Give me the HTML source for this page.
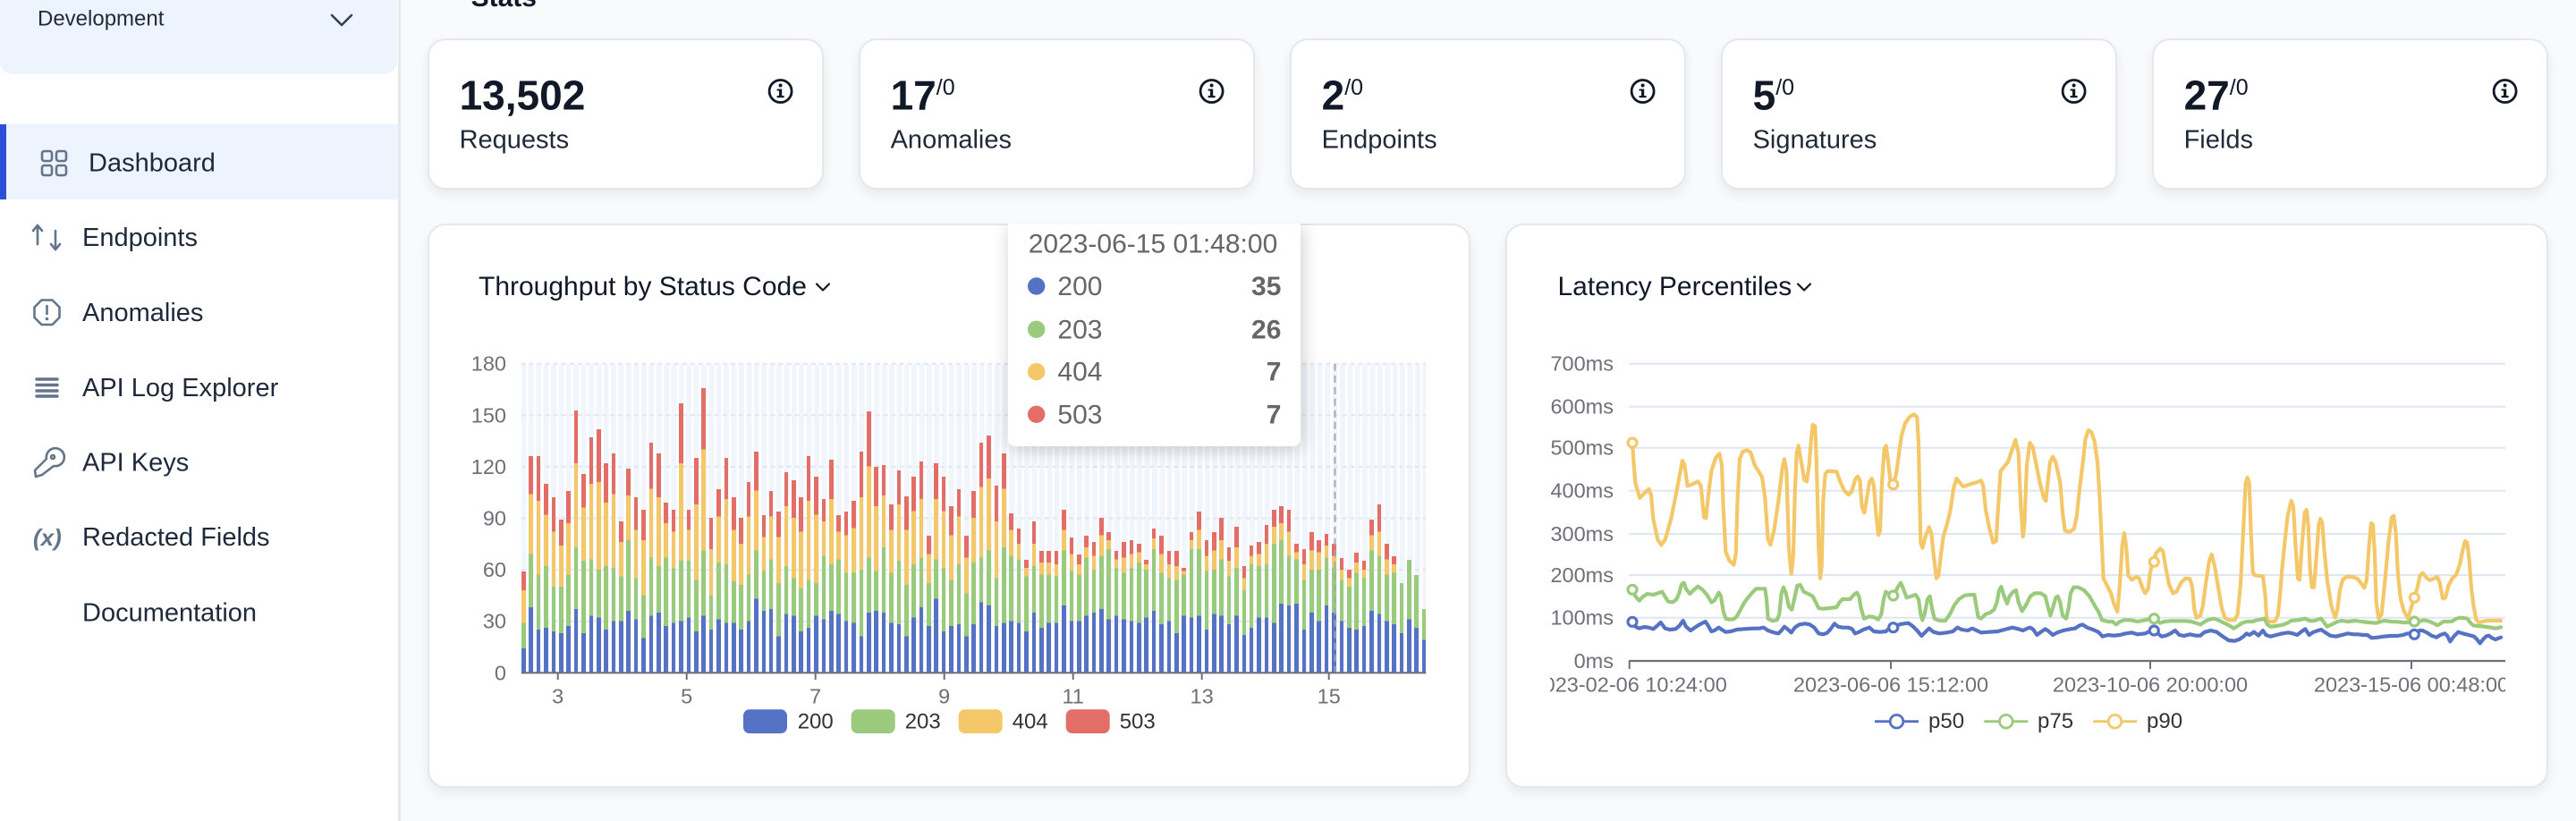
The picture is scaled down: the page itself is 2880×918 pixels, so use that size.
<!DOCTYPE html>
<html><head><meta charset="utf-8">
<style>
*{margin:0;padding:0;box-sizing:border-box}
html,body{width:2880px;height:918px;overflow:hidden;background:#f9fafb;font-family:"Liberation Sans",sans-serif}
.abs{position:absolute}
.side{position:absolute;left:0;top:0;width:448px;height:918px;background:#fff;border-right:3px solid #e6e8ec}
.dev{position:absolute;left:0;top:-30px;width:444px;height:113px;background:#eef4fd;border-radius:14px}
.act{position:absolute;left:0;top:139px;width:445px;height:84px;background:#eef4fd}
.act b{position:absolute;left:0;top:0;width:7px;height:84px;background:#2b4fd6}
.card{position:absolute;background:#fff;border:2px solid #e3e8ef;border-radius:20px;box-shadow:0 6px 12px rgba(15,23,42,0.07)}
.stripes{position:absolute;left:582.7px;top:406.7px;width:1011.6px;height:345.6px;background:repeating-linear-gradient(90deg,#f1f6fd 0 5.3px,#ffffff 5.3px 7.8px,#f1f6fd 7.8px 8.4px)}
.bars{position:absolute;left:583px;top:406.7px;height:345.6px;width:1011.3px;display:flex;align-items:flex-end;overflow:hidden}
.bars i{display:block;flex:none;width:4.6px;margin-right:3.8px;height:calc(var(--r) * 1.92px);background:linear-gradient(to top,#5572c4 calc(var(--b) * 1.92px),#9aca7c calc(var(--b) * 1.92px) calc(var(--g) * 1.92px),#f4c768 calc(var(--g) * 1.92px) calc(var(--y) * 1.92px),#e36d67 calc(var(--y) * 1.92px))}
.ttclip{position:absolute;left:1100px;top:250px;width:400px;height:290px;overflow:hidden}
.tt{position:absolute;left:27.3px;top:0;width:327px;height:249.3px;background:#fff;border-radius:0 0 8px 8px;box-shadow:2px 4px 20px rgba(0,0,0,0.2)}
</style></head>
<body>
<div class="side">
  <div class="dev"></div>
  <div class="act"><b></b></div>
</div>

<div class="card" style="left:477.6px;top:43px;width:443px;height:169px"></div>
<div class="card" style="left:959.6px;top:43px;width:443px;height:169px"></div>
<div class="card" style="left:1441.6px;top:43px;width:443px;height:169px"></div>
<div class="card" style="left:1923.6px;top:43px;width:443px;height:169px"></div>
<div class="card" style="left:2405.6px;top:43px;width:443px;height:169px"></div>

<div class="card" style="left:477.6px;top:250px;width:1166.4px;height:631px"></div>
<div class="card" style="left:1683px;top:250px;width:1166px;height:631px"></div>

<div class="stripes"></div>
<svg class="abs" style="left:0;top:0" width="2880" height="918" viewBox="0 0 2880 918">
 <g stroke="#e1e7f0" stroke-width="2" stroke-dasharray="5 4">
  <line x1="582.7" y1="406.7" x2="1594.3" y2="406.7"/>
  <line x1="582.7" y1="464.3" x2="1594.3" y2="464.3"/>
  <line x1="582.7" y1="521.9" x2="1594.3" y2="521.9"/>
  <line x1="582.7" y1="579.5" x2="1594.3" y2="579.5"/>
  <line x1="582.7" y1="637.1" x2="1594.3" y2="637.1"/>
  <line x1="582.7" y1="694.7" x2="1594.3" y2="694.7"/>
 </g>
</svg>

<div class="bars">
<i style="--b:14;--g:29;--y:48;--r:59"></i><i style="--b:38;--g:69;--y:104;--r:126"></i><i style="--b:25;--g:57;--y:100;--r:126"></i><i style="--b:26;--g:62;--y:92;--r:110"></i><i style="--b:24;--g:50;--y:82;--r:102"></i><i style="--b:23;--g:50;--y:74;--r:89"></i><i style="--b:27;--g:57;--y:87;--r:106"></i><i style="--b:37;--g:73;--y:122;--r:153"></i><i style="--b:23;--g:65;--y:96;--r:116"></i><i style="--b:33;--g:66;--y:110;--r:137"></i>
<i style="--b:32;--g:60;--y:111;--r:142"></i><i style="--b:25;--g:62;--y:99;--r:122"></i><i style="--b:30;--g:61;--y:104;--r:128"></i><i style="--b:30;--g:56;--y:76;--r:88"></i><i style="--b:36;--g:77;--y:103;--r:119"></i><i style="--b:31;--g:55;--y:83;--r:102"></i><i style="--b:20;--g:45;--y:77;--r:95"></i><i style="--b:33;--g:67;--y:107;--r:134"></i><i style="--b:35;--g:62;--y:102;--r:128"></i><i style="--b:27;--g:67;--y:87;--r:99"></i>
<i style="--b:29;--g:61;--y:82;--r:95"></i><i style="--b:30;--g:65;--y:122;--r:157"></i><i style="--b:32;--g:65;--y:83;--r:95"></i><i style="--b:24;--g:54;--y:98;--r:125"></i><i style="--b:33;--g:71;--y:130;--r:166"></i><i style="--b:25;--g:45;--y:72;--r:90"></i><i style="--b:31;--g:64;--y:91;--r:107"></i><i style="--b:29;--g:63;--y:101;--r:125"></i><i style="--b:29;--g:53;--y:83;--r:102"></i><i style="--b:25;--g:51;--y:75;--r:90"></i>
<i style="--b:30;--g:57;--y:91;--r:111"></i><i style="--b:43;--g:71;--y:106;--r:129"></i><i style="--b:36;--g:59;--y:79;--r:92"></i><i style="--b:37;--g:66;--y:91;--r:106"></i><i style="--b:21;--g:52;--y:79;--r:94"></i><i style="--b:34;--g:62;--y:97;--r:117"></i><i style="--b:33;--g:55;--y:90;--r:112"></i><i style="--b:24;--g:49;--y:82;--r:102"></i><i style="--b:26;--g:54;--y:100;--r:126"></i><i style="--b:33;--g:52;--y:92;--r:114"></i>
<i style="--b:31;--g:68;--y:88;--r:101"></i><i style="--b:36;--g:63;--y:101;--r:124"></i><i style="--b:34;--g:66;--y:82;--r:92"></i><i style="--b:30;--g:58;--y:80;--r:94"></i><i style="--b:29;--g:58;--y:84;--r:100"></i><i style="--b:21;--g:60;--y:102;--r:129"></i><i style="--b:35;--g:67;--y:120;--r:152"></i><i style="--b:36;--g:59;--y:97;--r:120"></i><i style="--b:35;--g:73;--y:103;--r:121"></i><i style="--b:29;--g:58;--y:83;--r:98"></i>
<i style="--b:28;--g:65;--y:98;--r:118"></i><i style="--b:21;--g:51;--y:83;--r:103"></i><i style="--b:32;--g:63;--y:94;--r:114"></i><i style="--b:38;--g:67;--y:101;--r:123"></i><i style="--b:27;--g:52;--y:69;--r:80"></i><i style="--b:43;--g:66;--y:101;--r:122"></i><i style="--b:24;--g:61;--y:94;--r:114"></i><i style="--b:27;--g:54;--y:80;--r:97"></i><i style="--b:28;--g:63;--y:91;--r:107"></i><i style="--b:21;--g:46;--y:67;--r:80"></i>
<i style="--b:28;--g:64;--y:90;--r:106"></i><i style="--b:41;--g:67;--y:108;--r:134"></i><i style="--b:39;--g:71;--y:113;--r:138"></i><i style="--b:27;--g:55;--y:88;--r:109"></i><i style="--b:29;--g:73;--y:107;--r:128"></i><i style="--b:30;--g:68;--y:83;--r:93"></i><i style="--b:29;--g:66;--y:75;--r:84"></i><i style="--b:24;--g:56;--y:61;--r:66"></i><i style="--b:35;--g:62;--y:75;--r:88"></i><i style="--b:26;--g:57;--y:64;--r:71"></i>
<i style="--b:29;--g:57;--y:64;--r:71"></i><i style="--b:29;--g:56;--y:63;--r:71"></i><i style="--b:39;--g:71;--y:83;--r:95"></i><i style="--b:30;--g:59;--y:69;--r:79"></i><i style="--b:30;--g:57;--y:63;--r:69"></i><i style="--b:33;--g:67;--y:73;--r:80"></i><i style="--b:35;--g:60;--y:68;--r:76"></i><i style="--b:37;--g:68;--y:80;--r:90"></i><i style="--b:31;--g:72;--y:77;--r:82"></i><i style="--b:33;--g:61;--y:66;--r:71"></i>
<i style="--b:31;--g:58;--y:67;--r:76"></i><i style="--b:30;--g:61;--y:69;--r:77"></i><i style="--b:29;--g:64;--y:70;--r:75"></i><i style="--b:32;--g:60;--y:63;--r:66"></i><i style="--b:36;--g:72;--y:78;--r:84"></i><i style="--b:28;--g:58;--y:69;--r:80"></i><i style="--b:30;--g:55;--y:63;--r:71"></i><i style="--b:23;--g:54;--y:62;--r:71"></i><i style="--b:33;--g:57;--y:59;--r:61"></i><i style="--b:32;--g:72;--y:77;--r:82"></i>
<i style="--b:33;--g:72;--y:83;--r:94"></i><i style="--b:25;--g:59;--y:68;--r:77"></i><i style="--b:34;--g:60;--y:71;--r:82"></i><i style="--b:33;--g:66;--y:77;--r:90"></i><i style="--b:28;--g:56;--y:65;--r:73"></i><i style="--b:33;--g:61;--y:73;--r:85"></i><i style="--b:22;--g:48;--y:55;--r:62"></i><i style="--b:26;--g:63;--y:68;--r:74"></i><i style="--b:32;--g:62;--y:69;--r:76"></i><i style="--b:32;--g:63;--y:75;--r:86"></i>
<i style="--b:29;--g:75;--y:85;--r:95"></i><i style="--b:40;--g:77;--y:87;--r:97"></i><i style="--b:39;--g:68;--y:82;--r:95"></i><i style="--b:40;--g:66;--y:70;--r:75"></i><i style="--b:25;--g:54;--y:63;--r:72"></i><i style="--b:35;--g:60;--y:71;--r:82"></i><i style="--b:30;--g:60;--y:70;--r:77"></i><i style="--b:39;--g:67;--y:74;--r:81"></i><i style="--b:35;--g:61;--y:68;--r:75"></i><i style="--b:30;--g:54;--y:60;--r:67"></i>
<i style="--b:26;--g:50;--y:55;--r:60"></i><i style="--b:25;--g:58;--y:64;--r:70"></i><i style="--b:27;--g:55;--y:60;--r:65"></i><i style="--b:36;--g:71;--y:80;--r:89"></i><i style="--b:34;--g:68;--y:82;--r:98"></i><i style="--b:30;--g:57;--y:66;--r:75"></i><i style="--b:28;--g:58;--y:63;--r:68"></i><i style="--b:23;--g:52;--y:52;--r:52"></i><i style="--b:31;--g:66;--y:66;--r:66"></i><i style="--b:26;--g:57;--y:57;--r:57"></i>
<i style="--b:19;--g:37;--y:37;--r:37"></i>
</div>

<svg class="abs" style="left:0;top:0" width="2880" height="918" viewBox="0 0 2880 918">
 <defs><clipPath id="lc"><rect x="1733" y="740" width="1068" height="60"/></clipPath></defs>

 <!-- Sidebar -->
 <text x="42" y="28.5" font-size="24" fill="#1f2937">Development</text>
 <polyline points="371,17 382,28 393,17" fill="none" stroke="#374151" stroke-width="2.6" stroke-linecap="round" stroke-linejoin="round"/>
 <g fill="none" stroke="#64748b" stroke-width="2.6" stroke-linecap="round" stroke-linejoin="round">
  <rect x="47" y="169" width="11" height="11" rx="2.5"/><rect x="63" y="169" width="11" height="11" rx="2.5"/>
  <rect x="47" y="185" width="11" height="11" rx="2.5"/><rect x="63" y="185" width="11" height="11" rx="2.5"/>
  <line x1="42" y1="252" x2="42" y2="273"/><polyline points="37,258 42,252 47,258"/>
  <line x1="62" y1="258" x2="62" y2="279"/><polyline points="57,273 62,279 67,273"/>
  <polygon points="46.5,335.5 58.5,335.5 66.5,343.5 66.5,355 58.5,363 46.5,363 38.5,355 38.5,343.5"/>
  <line x1="52.5" y1="342" x2="52.5" y2="351"/>
  <path d="M47,531 L40,533 L39,526 L52,513 A10,10 0 1 1 60,521 L47,531" />
  <circle cx="59" cy="511" r="2"/>
 </g>
 <circle cx="52.5" cy="356.5" r="1.8" fill="#64748b"/>
 <g stroke="#64748b" stroke-width="3.4" stroke-linecap="round">
  <line x1="41" y1="424" x2="64" y2="424"/><line x1="41" y1="430.5" x2="64" y2="430.5"/>
  <line x1="41" y1="437" x2="64" y2="437"/><line x1="41" y1="443" x2="64" y2="443"/>
 </g>
 <text x="37" y="610" font-size="26" font-weight="bold" font-style="italic" fill="#64748b">(x)</text>
 <g font-size="29" fill="#1e293b">
  <text x="99" y="191.7">Dashboard</text>
  <text x="92" y="275">Endpoints</text>
  <text x="92" y="359">Anomalies</text>
  <text x="92" y="443">API Log Explorer</text>
  <text x="92" y="526.5">API Keys</text>
  <text x="92" y="610">Redacted Fields</text>
  <text x="92" y="694.5">Documentation</text>
 </g>

 <!-- Stats header -->
 <text x="526.6" y="7" font-size="30" font-weight="bold" fill="#111827">Stats</text>

 <!-- Stat cards -->
 <g fill="#111827">
  <text x="513.6" y="122.7" font-size="46" font-weight="bold">13,502</text>
  <text x="995.6" y="122.7" font-size="46" font-weight="bold">17<tspan font-size="25" font-weight="normal" dy="-16.7">/0</tspan></text>
  <text x="1477.6" y="122.7" font-size="46" font-weight="bold">2<tspan font-size="25" font-weight="normal" dy="-16.7">/0</tspan></text>
  <text x="1959.6" y="122.7" font-size="46" font-weight="bold">5<tspan font-size="25" font-weight="normal" dy="-16.7">/0</tspan></text>
  <text x="2441.6" y="122.7" font-size="46" font-weight="bold">27<tspan font-size="25" font-weight="normal" dy="-16.7">/0</tspan></text>
 </g>
 <g fill="#1f2937" font-size="29">
  <text x="513.6" y="165.7">Requests</text>
  <text x="995.6" y="165.7">Anomalies</text>
  <text x="1477.6" y="165.7">Endpoints</text>
  <text x="1959.6" y="165.7">Signatures</text>
  <text x="2441.6" y="165.7">Fields</text>
 </g>
 <g id="info" transform="translate(872.6,102)">
  <circle r="12.5" fill="none" stroke="#111827" stroke-width="2.8"/>
  <circle cx="0" cy="-6.5" r="2" fill="#111827"/>
  <rect x="-1.6" y="-2.5" width="3.2" height="9" fill="#111827"/>
  <rect x="-4" y="5" width="8" height="2.2" fill="#111827"/>
  <rect x="-4" y="-2.5" width="4" height="2" fill="#111827"/>
 </g>
 <use href="#info" transform="translate(482,0)"/>
 <use href="#info" transform="translate(964,0)"/>
 <use href="#info" transform="translate(1446,0)"/>
 <use href="#info" transform="translate(1928,0)"/>

 <!-- Chart titles -->
 <g font-size="30" fill="#111827">
  <text x="535" y="330">Throughput by Status Code</text>
  <text x="1741.5" y="330">Latency Percentiles</text>
 </g>
 <g fill="none" stroke="#111827" stroke-width="2.2" stroke-linecap="round" stroke-linejoin="round">
  <polyline points="913,317.5 920,324.5 927,317.5"/>
  <polyline points="2010,317.5 2017,324.5 2024,317.5"/>
 </g>

 <!-- Bar chart axes -->
 <g font-size="23.5" fill="#6e7079" text-anchor="end">
  <text x="566" y="414.7">180</text><text x="566" y="472.3">150</text><text x="566" y="529.9">120</text>
  <text x="566" y="587.5">90</text><text x="566" y="645.1">60</text><text x="566" y="702.7">30</text><text x="566" y="760.3">0</text>
 </g>
 <line x1="1492.5" y1="406.7" x2="1492.5" y2="752" stroke="#a3a7b0" stroke-width="2" stroke-dasharray="8 5"/>
 <line x1="582.7" y1="752.3" x2="1594.3" y2="752.3" stroke="#6e7079" stroke-width="2.2"/>
 <g stroke="#6e7079" stroke-width="2">
  <line x1="623.7" y1="752" x2="623.7" y2="760"/><line x1="767.7" y1="752" x2="767.7" y2="760"/>
  <line x1="911.7" y1="752" x2="911.7" y2="760"/><line x1="1055.7" y1="752" x2="1055.7" y2="760"/>
  <line x1="1199.7" y1="752" x2="1199.7" y2="760"/><line x1="1343.7" y1="752" x2="1343.7" y2="760"/>
  <line x1="1485.7" y1="752" x2="1485.7" y2="760"/>
 </g>
 <g font-size="23.5" fill="#6e7079" text-anchor="middle">
  <text x="623.7" y="786.7">3</text><text x="767.7" y="786.7">5</text><text x="911.7" y="786.7">7</text>
  <text x="1055.7" y="786.7">9</text><text x="1199.7" y="786.7">11</text><text x="1343.7" y="786.7">13</text>
  <text x="1485.7" y="786.7">15</text>
 </g>
 <!-- Bar legend -->
 <rect x="831" y="793.3" width="49" height="26.7" rx="7" fill="#5572c4"/>
 <rect x="951.7" y="793.3" width="49" height="26.7" rx="7" fill="#9aca7c"/>
 <rect x="1071.7" y="793.3" width="49" height="26.7" rx="7" fill="#f4c768"/>
 <rect x="1191.7" y="793.3" width="49" height="26.7" rx="7" fill="#e36d67"/>
 <g font-size="24" fill="#333">
  <text x="891.7" y="814.5">200</text><text x="1011.7" y="814.5">203</text>
  <text x="1131.7" y="814.5">404</text><text x="1251.7" y="814.5">503</text>
 </g>

 <!-- Latency chart -->
 <g stroke="#e0e6f1" stroke-width="2">
  <line x1="1821" y1="406.7" x2="2801" y2="406.7"/><line x1="1821" y1="454.7" x2="2801" y2="454.7"/>
  <line x1="1821" y1="500.7" x2="2801" y2="500.7"/><line x1="1821" y1="548.7" x2="2801" y2="548.7"/>
  <line x1="1821" y1="597" x2="2801" y2="597"/><line x1="1821" y1="643" x2="2801" y2="643"/>
  <line x1="1821" y1="690.7" x2="2801" y2="690.7"/>
 </g>
 <g font-size="23.5" fill="#6e7079" text-anchor="end">
  <text x="1804" y="414.7">700ms</text><text x="1804" y="462.7">600ms</text><text x="1804" y="508.7">500ms</text>
  <text x="1804" y="556.7">400ms</text><text x="1804" y="605">300ms</text><text x="1804" y="651">200ms</text>
  <text x="1804" y="698.7">100ms</text><text x="1804" y="747">0ms</text>
 </g>
 <line x1="1821" y1="739" x2="2801" y2="739" stroke="#6e7079" stroke-width="2.2"/>
 <g stroke="#6e7079" stroke-width="2">
  <line x1="1821.7" y1="739" x2="1821.7" y2="748"/><line x1="2114" y1="739" x2="2114" y2="748"/>
  <line x1="2404" y1="739" x2="2404" y2="748"/><line x1="2696" y1="739" x2="2696" y2="748"/>
 </g>
 <g font-size="23.5" fill="#6e7079" text-anchor="middle" clip-path="url(#lc)">
  <text x="1821.7" y="773.3">2023-02-06 10:24:00</text>
  <text x="2114" y="773.3">2023-06-06 15:12:00</text>
  <text x="2404" y="773.3">2023-10-06 20:00:00</text>
  <text x="2696" y="773.3">2023-15-06 00:48:00</text>
 </g>

 <g fill="none" stroke-width="12.5" stroke-linecap="round" stroke-linejoin="round">
  <g transform="translate(1720,380) scale(0.333333)">
   <polyline stroke="#f4c768" points="315,345 320,420 325,480 340,530 360,510 370,500 378,520 385,600 400,670 412,688 425,670 445,600 465,500 483,405 490,420 500,490 515,485 535,475 545,490 555,595 562,598 570,520 580,440 595,395 607,382 615,420 620,560 628,710 640,740 655,755 662,720 668,530 675,400 685,375 700,370 712,378 725,420 750,460 760,530 770,670 778,688 790,640 805,540 818,430 825,400 832,440 840,700 848,785 855,720 860,520 866,380 872,355 880,400 892,470 900,475 908,420 915,330 920,285 928,290 933,420 940,700 945,800 950,760 955,540 962,450 970,440 1000,442 1010,470 1025,505 1040,520 1050,510 1062,470 1070,458 1078,470 1085,560 1093,580 1100,540 1110,478"/>
   <polyline stroke="#9aca7c" points="315,838 325,860 338,875 350,862 365,852 385,855 400,850 415,845 425,862 435,878 450,880 462,872 472,850 480,820 488,815 495,835 508,852 520,840 535,827 550,838 565,855 580,880 590,875 605,848 612,860 620,910 628,935 640,938 655,937 665,928 678,905 690,882 705,862 720,845 730,835 760,835 765,870 770,935 785,943 800,940 808,920 815,850 822,830 830,850 840,895 850,905 858,870 868,825 878,822 890,845 905,852 920,860 930,880 940,900 955,902 975,900 1000,897 1010,880 1020,870 1045,870 1058,855 1068,848 1075,860 1082,900 1092,935 1100,932 1110,928"/>
   <polyline stroke="#5572c4" points="315,946 325,962 338,968 355,963 370,965 385,970 395,962 410,948 425,968 440,972 460,970 472,960 485,942 495,962 510,975 525,965 540,955 560,945 570,960 580,978 590,975 605,965 615,972 628,980 645,978 665,972 690,970 720,968 740,968 755,965 770,975 790,982 805,985 815,975 825,962 835,970 848,982 860,965 875,955 895,952 910,955 925,965 940,985 955,988 968,983 980,970 993,952 1005,962 1020,965 1040,965 1052,970 1062,985 1075,980 1090,972 1110,965"/>
  </g>
  <g transform="translate(2090,380) scale(0.333333)">
   <polyline stroke="#f4c768" points="0,478 8,465 15,490 22,580 30,655 36,640 42,480 50,365 56,355 62,400 70,470 80,487 90,450 98,390 108,320 120,280 135,258 150,250 160,260 165,350 168,500 172,680 178,698 188,660 200,628 208,650 215,720 225,800 232,790 240,720 248,660 260,620 272,570 282,500 292,465 300,475 315,492 335,485 360,478 375,472 382,490 390,570 402,630 415,680 425,675 432,560 440,440 452,425 465,410 478,370 490,335 500,380 508,560 515,660 520,620 528,420 538,345 548,360 560,420 572,480 585,530 592,540 598,480 606,410 615,392 625,410 640,480 648,580 656,640 670,645 686,635 695,595 705,500 715,420 725,330 735,303 745,310 755,340 765,410 772,520 778,650 785,800 795,820 810,850 820,885 832,912 840,820 848,690 855,648 862,700 868,790 880,805 895,795 905,800 915,830 925,850 935,835 942,780 950,745 962,715 975,700 985,710 995,770 1005,820 1018,850 1030,845 1045,815 1060,800 1075,802 1083,830 1090,905 1097,932 1110,925"/>
   <polyline stroke="#9aca7c" points="0,928 15,930 30,938 40,920 48,870 55,845 65,852 75,860 85,850 95,830 105,815 112,830 125,865 140,860 155,855 165,870 172,920 178,940 185,920 195,870 203,860 210,900 218,935 235,942 255,942 270,920 285,890 300,870 320,857 340,855 352,855 358,890 365,930 375,935 390,920 405,915 418,905 428,880 435,840 442,828 452,860 462,885 470,860 482,845 492,840 500,880 512,910 525,890 540,860 555,850 575,850 590,860 600,900 607,925 615,900 625,865 632,860 640,880 648,925 660,935 668,900 675,850 685,830 700,830 720,840 738,860 755,890 770,915 780,940 800,945 815,945 828,955 840,945 855,940 875,940 900,945 925,940 945,935 960,937 975,950 990,945 1010,943 1040,943 1060,943 1080,945 1095,950 1110,955"/>
   <polyline stroke="#5572c4" points="0,965 15,978 35,980 55,978 70,965 85,962 100,955 115,952 130,950 145,960 160,975 175,993 190,978 200,968 215,980 235,985 260,982 280,978 295,965 310,972 330,975 345,968 360,975 375,982 400,980 430,978 460,970 480,965 500,970 515,975 530,968 540,965 550,972 562,990 575,980 590,970 602,978 615,990 630,982 650,975 675,970 690,968 705,958 715,955 730,965 750,972 768,980 782,995 800,990 820,992 840,990 860,985 880,982 900,988 925,985 945,975 957,975 968,985 980,995 995,992 1010,985 1025,975 1040,990 1055,993 1075,988 1095,992 1110,992"/>
  </g>
  <g transform="translate(2460,380) scale(0.333333)">
   <polyline stroke="#f4c768" points="0,925 8,895 18,820 30,740 38,720 48,760 60,830 72,900 82,932 95,940 115,940 125,920 135,820 145,620 152,480 158,462 164,480 170,650 176,780 183,790 210,793 218,860 222,930 228,945 250,945 260,925 267,860 274,770 283,680 293,590 305,540 312,560 320,700 327,800 333,805 340,700 350,580 356,570 362,620 368,770 374,830 381,830 390,720 397,620 403,600 409,615 416,710 426,810 440,895 452,932 460,905 468,840 477,805 490,795 510,795 528,802 540,818 550,832 558,805 566,690 573,615 579,620 585,720 590,880 598,935 608,920 620,800 632,670 642,595 649,590 656,650 663,790 672,870 683,910 696,935 707,900 718,865 728,830 737,790 746,782 758,798 770,806 785,800 795,795 803,815 813,868 822,865 832,825 845,800 858,788 870,755 880,705 888,675 895,680 902,740 908,820 916,890 925,938 935,948 960,942 1008,942"/>
   <polyline stroke="#9aca7c" points="0,955 15,945 30,938 45,935 60,940 80,950 100,960 112,968 125,960 140,950 155,945 175,945 190,940 205,938 215,935 225,955 235,962 255,960 280,955 295,948 305,942 330,940 352,935 365,942 380,943 395,938 405,935 415,948 425,962 440,955 460,945 475,942 495,945 520,942 540,945 565,948 590,950 605,945 618,942 640,945 660,946 680,948 700,948 720,948 735,945 750,940 770,945 785,952 795,958 805,952 815,945 830,945 845,944 855,937 870,932 885,933 895,935 905,948 915,958 935,960 955,962 975,965 990,968 1008,964"/>
   <polyline stroke="#5572c4" points="0,992 15,980 35,975 55,980 75,995 95,1008 115,1010 130,1005 145,995 155,985 165,990 180,980 195,992 210,975 220,990 235,995 255,990 275,985 295,982 310,985 325,990 340,978 352,970 365,990 380,980 395,975 405,972 420,982 435,992 455,995 475,990 495,985 515,988 530,988 545,990 560,990 575,1000 595,998 615,995 640,993 660,993 680,990 695,985 710,985 720,985 735,975 745,975 760,982 775,992 792,998 805,990 820,985 828,992 838,1012 850,995 865,980 880,985 900,990 918,995 928,1005 938,1018 948,1005 958,995 968,992 978,1000 990,1005 1008,998"/>
  </g>
 </g>
 <g fill="#fff" stroke-width="3.2">
  <g stroke="#f4c768"><circle cx="1825" cy="495" r="5"/><circle cx="2116.7" cy="541.7" r="5"/><circle cx="2408.3" cy="628.3" r="5"/><circle cx="2699.3" cy="668.3" r="5"/></g>
  <g stroke="#9aca7c"><circle cx="1825" cy="659.3" r="5"/><circle cx="2116.7" cy="666" r="5"/><circle cx="2408.3" cy="691.7" r="5"/><circle cx="2699.3" cy="695" r="5"/></g>
  <g stroke="#5572c4"><circle cx="1825" cy="695.3" r="5"/><circle cx="2116.7" cy="701.7" r="5"/><circle cx="2408.3" cy="705" r="5"/><circle cx="2699.3" cy="709.3" r="5"/></g>
 </g>
 <!-- Latency legend -->
 <g stroke-width="2.8" fill="#fff">
  <line x1="2096" y1="806.7" x2="2145" y2="806.7" stroke="#5572c4"/><circle cx="2120.5" cy="806.7" r="7.3" stroke="#5572c4"/>
  <line x1="2218.3" y1="806.7" x2="2267.3" y2="806.7" stroke="#9aca7c"/><circle cx="2242.8" cy="806.7" r="7.3" stroke="#9aca7c"/>
  <line x1="2340" y1="806.7" x2="2389" y2="806.7" stroke="#f4c768"/><circle cx="2364.5" cy="806.7" r="7.3" stroke="#f4c768"/>
 </g>
 <g font-size="24" fill="#333">
  <text x="2156" y="814">p50</text><text x="2278" y="814">p75</text><text x="2400" y="814">p90</text>
 </g>
</svg>

<div class="ttclip">
 <div class="tt">
  <svg width="327" height="250" viewBox="0 0 327 250" style="position:absolute;left:0;top:0">
   <text x="22.7" y="32.3" font-size="30" fill="#666">2023-06-15 01:48:00</text>
   <circle cx="31.7" cy="70" r="9.7" fill="#5572c4"/>
   <circle cx="31.7" cy="118.3" r="9.7" fill="#9aca7c"/>
   <circle cx="31.7" cy="165.7" r="9.7" fill="#f4c768"/>
   <circle cx="31.7" cy="213.3" r="9.7" fill="#e36d67"/>
   <g font-size="30" fill="#666">
    <text x="55.4" y="80">200</text><text x="55.4" y="128.3">203</text>
    <text x="55.4" y="175.7">404</text><text x="55.4" y="223.3">503</text>
   </g>
   <g font-size="30" fill="#666" font-weight="bold" text-anchor="end">
    <text x="305.4" y="80">35</text><text x="305.4" y="128.3">26</text>
    <text x="305.4" y="175.7">7</text><text x="305.4" y="223.3">7</text>
   </g>
  </svg>
 </div>
</div>
</body></html>
